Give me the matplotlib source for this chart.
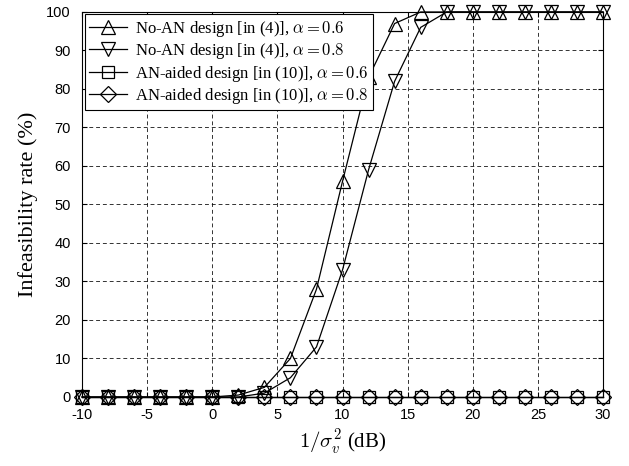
import numpy as np
import matplotlib.pyplot as plt

plt.rcParams['mathtext.fontset'] = 'cm'
plt.rcParams['font.family'] = 'Liberation Sans'
plt.rcParams['axes.unicode_minus'] = False

snr_db = np.arange(-10, 31, 2)
noan_06 = [0, 0, 0, 0, 0, 0, 0.5, 2.5, 10, 28, 56, 83, 97, 100, 100, 100, 100, 100, 100, 100, 100]
noan_08 = [0, 0, 0, 0, 0, 0, 0, 1, 5, 13, 33, 59, 82, 96, 100, 100, 100, 100, 100, 100, 100]
an_06 = [0] * len(snr_db)
an_08 = [0] * len(snr_db)

labels = [r'No-AN design [in (4)], $\alpha = 0.6$',
          r'No-AN design [in (4)], $\alpha = 0.8$',
          r'AN-aided design [in (10)], $\alpha = 0.6$',
          r'AN-aided design [in (10)], $\alpha = 0.8$']
markers = ['^', 'v', 's', 'D']
sizes = [10, 10, 8, 8]

fig = plt.figure(figsize=(6.29, 4.66), dpi=100)
ax = fig.add_axes([0.1304, 0.1481, 0.8283, 0.8262])

for ys, lab, m, s in zip([noan_06, noan_08, an_06, an_08], labels, markers, sizes):
    ax.plot(snr_db, ys, color='k', linewidth=0.9, marker=m, markersize=s,
            markerfacecolor='none', markeredgecolor='k', markeredgewidth=0.9,
            label=lab, clip_on=False, zorder=3)

ax.set_xlim(-10, 30)
ax.set_ylim(0, 100)
ax.set_xticks(np.arange(-10, 31, 5))
ax.set_yticks(np.arange(0, 101, 10))
ax.grid(True, color='k', linestyle=(0, (4, 3)), linewidth=0.7, alpha=0.8)
ax.tick_params(direction='in', top=True, right=True, labelsize=10.5, pad=8)

ax.set_xlabel(r'$1/\sigma_v^2$ (dB)', family='Liberation Serif', fontsize=15, labelpad=4)
ax.set_ylabel('Infeasibility rate (%)', family='Liberation Serif', fontsize=16, labelpad=6)

leg = ax.legend(loc='upper left', fancybox=False, edgecolor='k', framealpha=1,
                prop={'family': 'Liberation Serif', 'size': 12},
                borderaxespad=0.15, handlelength=2.3, handletextpad=0.5,
                labelspacing=0.15, borderpad=0.25)
leg.get_frame().set_linewidth(0.8)
leg.set_zorder(5)

fig.savefig('out.png', dpi=100)
